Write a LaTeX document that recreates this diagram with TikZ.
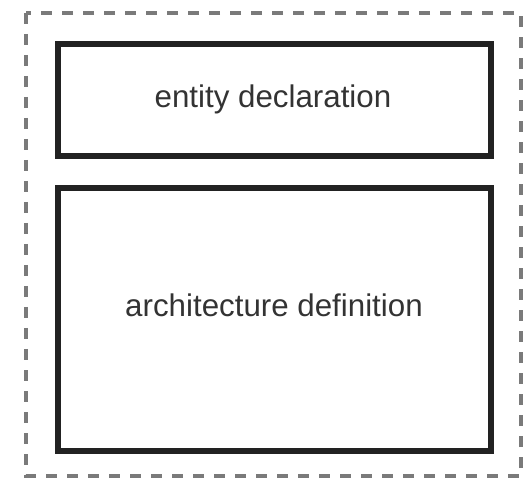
\documentclass[tikz,border=0pt]{standalone}
\usepackage{fontspec}
\setmainfont{Liberation Sans}
\definecolor{boxline}{HTML}{222222}
\definecolor{dashline}{HTML}{7A7A7A}
\definecolor{txt}{HTML}{333333}
\begin{document}
\begin{tikzpicture}[x=1pt,y=-1pt,
  outerbox/.style={draw=dashline,line width=3.5pt,dash pattern=on 11pt off 10pt},
  innerbox/.style={draw=boxline,line width=6pt},
  lbl/.style={font=\fontsize{31.3}{36}\selectfont,text=txt,anchor=base,inner sep=0pt}]
\useasboundingbox (0,0) rectangle (528,481);
\draw[outerbox] (26,13) rectangle (521,476);
\draw[innerbox] (58,44) rectangle (491,156);
\draw[innerbox] (58,188) rectangle (491,451);
\node[lbl] (entity) at (273,108) {entity declaration};
\node[lbl] (arch) at (274,317) {architecture definition};
\end{tikzpicture}
\end{document}
